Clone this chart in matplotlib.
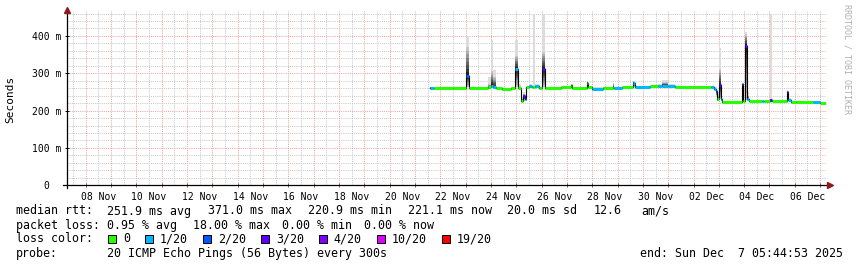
import matplotlib
matplotlib.use("Agg")
import matplotlib.pyplot as plt
from matplotlib.patches import Rectangle
from matplotlib.ticker import FixedLocator
import matplotlib.dates as mdates
from datetime import datetime, timedelta

start = datetime(2025, 11, 7, 5, 44, 53)
end = datetime(2025, 12, 7, 5, 44, 53)

# one row per consolidated step (value holds until the next time)
seg_time = ["11-21 14:20", "11-21 18:00", "11-22 12:00", "11-23 00:50", "11-23 02:50",
            "11-23 21:20", "11-23 23:50", "11-24 01:50", "11-24 04:40", "11-24 10:40",
            "11-24 19:10", "11-24 23:00", "11-25 02:00", "11-25 04:10", "11-25 06:30",
            "11-25 08:00", "11-25 09:00", "11-25 12:00", "11-25 14:30", "11-25 16:20",
            "11-25 18:00", "11-25 21:10", "11-26 00:30", "11-26 03:20", "11-26 18:00",
            "11-27 04:00", "11-27 05:00", "11-27 19:00", "11-27 20:00", "11-28 00:00",
            "11-28 10:20", "11-28 20:00", "11-28 21:00", "11-29 04:20", "11-29 14:40",
            "11-29 16:30", "11-30 06:50", "11-30 14:25", "11-30 18:10", "12-01 00:00",
            "12-01 06:30", "12-02 16:35", "12-02 19:15", "12-02 20:50", "12-02 21:50",
            "12-02 23:50", "12-03 01:40", "12-03 03:10", "12-03 22:00", "12-03 23:00",
            "12-04 00:30", "12-04 02:50", "12-04 04:20", "12-04 16:50", "12-04 18:40",
            "12-05 00:30", "12-05 02:25", "12-05 16:10", "12-05 18:00", "12-05 20:00",
            "12-06 01:10", "12-06 17:20", "12-07 00:00"]
seg_median = [261, 261, 260, 293, 261, 262, 266, 263, 261, 258, 260, 311, 261, 227, 238,
              232, 262, 265, 262, 262, 265, 261, 311, 261, 262, 268, 260, 275, 262, 259,
              260, 261, 260, 262, 275, 264, 265, 266, 267, 266, 264, 263, 259, 252, 230,
              268, 230, 224, 270, 226, 374, 232, 225, 225, 225, 228, 225, 250, 229, 224,
              223, 222, 221]
seg_loss = [1, 0, 0, 2, 0, 0, 1, 1, 0, 0, 0, 1, 0, 0, 3, 2, 0, 1, 0, 0, 1, 0, 3, 0, 0,
            0, 0, 0, 0, 1, 0, 0, 1, 0, 1, 1, 0, 1, 1, 1, 0, 1, 1, 2, 0, 3, 1, 0, 2, 0,
            3, 1, 0, 1, 0, 3, 0, 3, 1, 0, 0, 1, 0]
smoke_lo = [260, 260, 259, 262, 260, 260, 261, 261, 260, 257, 259, 263, 258, 224, 226,
            228, 260, 262, 261, 261, 262, 260, 262, 260, 261, 261, 259, 262, 261, 258,
            259, 260, 259, 261, 262, 263, 264, 264, 264, 264, 263, 262, 257, 240, 226,
            230, 226, 223, 225, 224, 228, 226, 224, 224, 224, 225, 224, 226, 225, 223,
            222, 221, 220]
smoke_hi = [263, 262, 262, 370, 263, 270, 306, 290, 262, 260, 262, 347, 265, 232, 245,
            240, 264, 268, 264, 263, 268, 263, 357, 263, 264, 270, 262, 278, 264, 261,
            262, 273, 262, 263, 278, 266, 266, 268, 276, 268, 265, 265, 262, 258, 240,
            311, 250, 226, 272, 228, 405, 240, 226, 226, 226, 232, 226, 252, 232, 226,
            225, 224, 223]
smoke_max = [264, 263, 263, 401, 264, 289, 388, 310, 263, 261, 263, 388, 270, 236, 250,
             245, 266, 270, 265, 459, 270, 264, 459, 264, 265, 272, 263, 280, 265, 262,
             263, 275, 263, 264, 280, 267, 267, 270, 283, 270, 266, 266, 264, 262, 250,
             369, 262, 227, 275, 230, 410, 250, 227, 227, 227, 459, 227, 254, 234, 227,
             226, 225, 224]

loss_steps = [0, 1, 2, 3, 4, 10, 19]
loss_labels = ["0", "1/20", "2/20", "3/20", "4/20", "10/20", "19/20"]
loss_colors = ["#26ff00", "#00b8ff", "#0059ff", "#5e00ff", "#7e00ff", "#dd00ff", "#ff0000"]

y_ticks = [0, 100, 200, 300, 400]
y_tick_labels = ["0  ", "100 m", "200 m", "300 m", "400 m"]

rtt_text = ["median rtt:", "251.9 ms avg", "371.0 ms max", "220.9 ms min",
            "221.1 ms now", "20.0 ms sd", "12.6", "am/s"]
loss_text = ["packet loss:", "0.95 % avg", "18.00 % max", "0.00 % min", "0.00 % now"]
probe_text = "20 ICMP Echo Pings (56 Bytes) every 300s"
end_text = "end: Sun Dec  7 05:44:53 2025"

MONO = "DejaVu Sans Mono"
W, H = 857, 267

times = [datetime.strptime("2025-" + s, "%Y-%m-%d %H:%M") for s in seg_time]
edges = times + [end]


def ext(v):
    return list(v) + [v[-1]]


def loss_color(n):
    c = loss_colors[0]
    for step, col in zip(loss_steps, loss_colors):
        if n >= step:
            c = col
    return c


fig = plt.figure(figsize=(W / 100, H / 100), dpi=100)
fig.patch.set_facecolor("white")
ax = fig.add_axes([66.5 / W, 81.7 / H, 759.7 / W, 174 / H])
ax.set_xlim(start, end)
ax.set_ylim(0, 466)
for s in ax.spines.values():
    s.set_visible(False)

red = "#eba0a0"
gray = "#c4c4c4"
dots = (0, (1, 1.2))

# grid: red every day, gray at noon, gray every 20 ms
t = datetime(2025, 11, 7, 12)
while t < end:
    if t.hour == 0:
        ax.axvline(t, color=red, lw=0.7, ls=dots, zorder=1)
    else:
        ax.axvline(t, color=gray, lw=0.7, ls=dots, zorder=0.9)
    t += timedelta(hours=12)
for v in range(20, 466, 20):
    if v % 100 == 0:
        ax.axhline(v, color=red, lw=0.7, ls=dots, zorder=1)
    else:
        ax.axhline(v, color=gray, lw=0.7, ls=dots, zorder=0.9)

# smoke
ax.fill_between(edges, ext(smoke_lo), ext(smoke_max), step="post",
                color="#dcdcdc", lw=0, zorder=2)
n_layers = 8
for k in range(n_layers):
    f = 1 - k / n_layers
    lo = [m - f * (m - a) for m, a in zip(seg_median, smoke_lo)]
    hi = [m + f * (b - m) for m, b in zip(seg_median, smoke_hi)]
    g = 0.78 - 0.66 * k / (n_layers - 1)
    ax.fill_between(edges, ext(lo), ext(hi), step="post",
                    color=(g, g, g), lw=0, zorder=2)

# median line: thin black joins, thick loss colored steps
ax.step(edges, ext(seg_median), where="post", color="black", lw=0.8, zorder=3)
ax.hlines(seg_median, times, edges[1:], colors=[loss_color(n) for n in seg_loss],
          lw=2.2, zorder=4)

# axes lines and arrows
ax.plot([-0.004, 1.004], [0, 0], transform=ax.transAxes, color="black", lw=0.9,
        clip_on=False, zorder=5)
ax.plot([0, 0], [-0.015, 1.005], transform=ax.transAxes, color="black", lw=0.9,
        clip_on=False, zorder=5)
ax.plot(1.0055, 0, marker=">", ms=4, color="#8b1a1a", transform=ax.transAxes,
        clip_on=False, zorder=6)
ax.plot(0, 1.008, marker="^", ms=4, color="#8b1a1a", transform=ax.transAxes,
        clip_on=False, zorder=6)

# ticks
ax.set_yticks(y_ticks)
ax.set_yticklabels(y_tick_labels, fontfamily=MONO, fontsize=7)
ax.tick_params(axis="y", direction="inout", length=3, width=0.7, pad=2.2)

label_pos = [datetime(2025, 11, 8, 12) + timedelta(days=2 * i) for i in range(15)]
ax.xaxis.set_major_locator(FixedLocator(mdates.date2num(label_pos)))
ax.xaxis.set_major_formatter(mdates.DateFormatter("%d %b"))
day_pos = [datetime(2025, 11, 8) + timedelta(days=i) for i in range(30)]
ax.xaxis.set_minor_locator(FixedLocator(mdates.date2num(day_pos)))
ax.tick_params(axis="x", which="major", length=0, pad=5, labelsize=7)
ax.tick_params(axis="x", which="minor", direction="inout", length=3, width=0.7,
               color="#666666")
for lab in ax.get_xticklabels():
    lab.set_fontfamily(MONO)

fig.text(10.7 / W, 1 - 99 / H, "Seconds", rotation=90, ha="center", va="center",
         fontfamily=MONO, fontsize=8)
fig.text(847 / W, 1 - 4 / H, "RRDTOOL / TOBI OETIKER", rotation=270, ha="center",
         va="top", fontfamily=MONO, fontsize=6, color="#b0b0b0")


def px_text(x, y, s, **kw):
    fig.text(x / W, 1 - y / H, s, va="center", fontfamily=MONO, fontsize=8.4, **kw)


rtt_x = [16, 107.3, 208.3, 308.3, 407.7, 506.7, 593.3, 641.7]
for x, s in zip(rtt_x, rtt_text):
    px_text(x, 211, s)
loss_x = [16, 107.3, 192.7, 281.5, 364]
for x, s in zip(loss_x, loss_text):
    px_text(x, 225.5, s)

px_text(16, 239, "loss color:")
bx = 108.3
for lab, col in zip(loss_labels, loss_colors):
    fig.add_artist(Rectangle((bx / W, 1 - 242.5 / H), 8 / W, 8 / H, facecolor=col,
                             edgecolor="black", lw=0.7, transform=fig.transFigure))
    px_text(bx + 14.5, 239, lab)
    bx += 30 + 7 * len(lab)

px_text(16, 253.3, "probe:")
px_text(107.3, 253.3, probe_text)
px_text(843, 253.3, end_text, ha="right")

fig.savefig("out.png", dpi=100, facecolor="white")
